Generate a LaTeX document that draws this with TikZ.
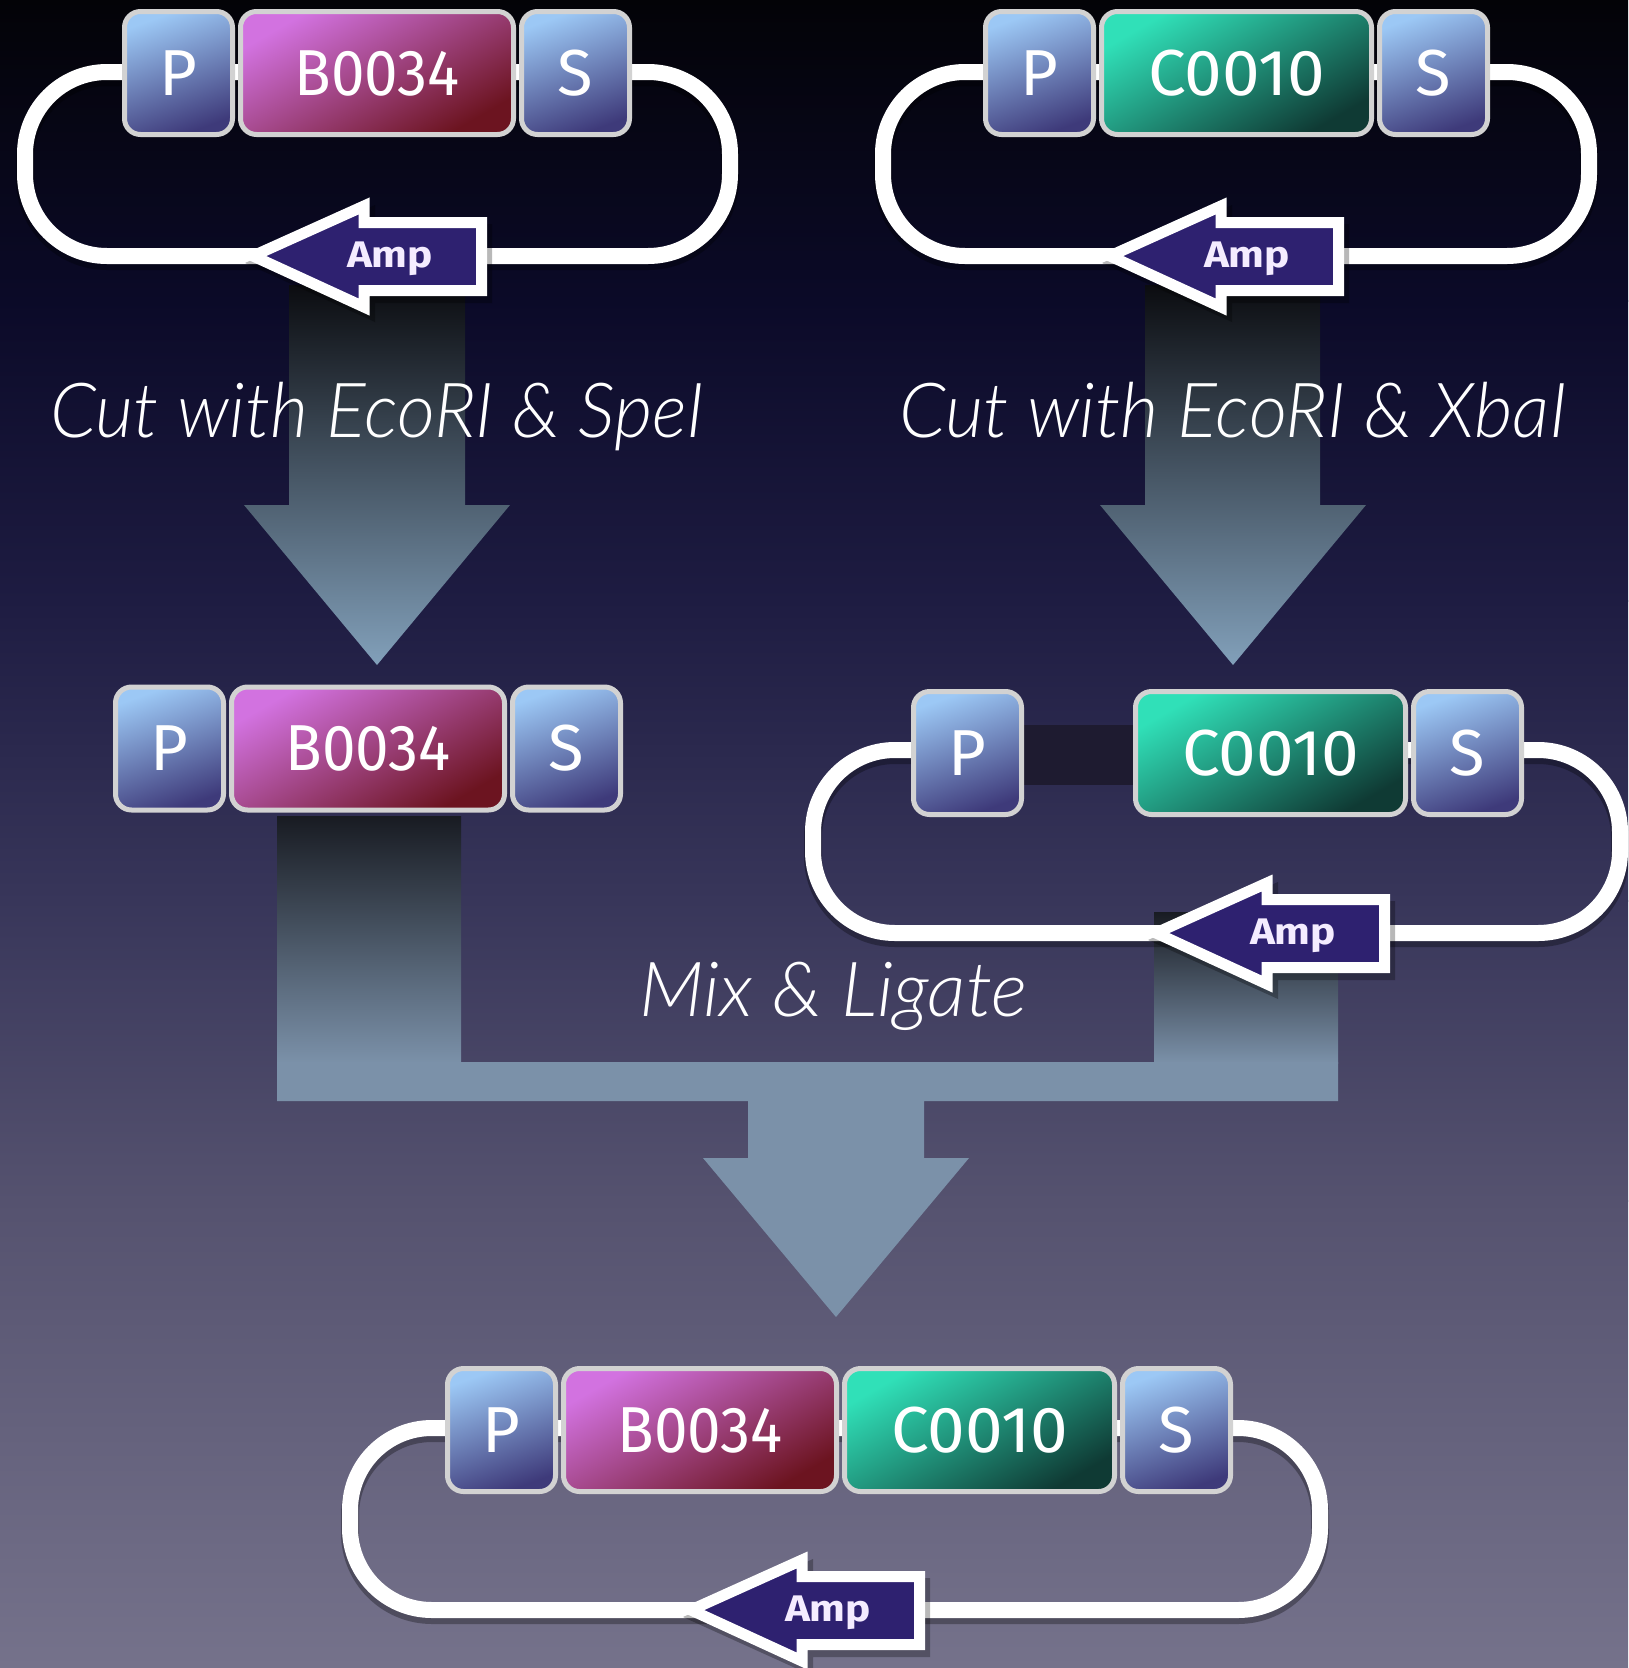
\documentclass[tikz,border=0pt]{standalone}
\usepackage{fontspec}
\usepackage{graphicx}
\setmainfont{Fira Sans}
\newfontfamily\cutfont{Lato}[UprightFont=* Light, ItalicFont=* Light Italic]

% palette
\definecolor{bgA}{HTML}{030307}
\definecolor{bgB}{HTML}{0B0A28}
\definecolor{bgC}{HTML}{1E1C42}
\definecolor{bgD}{HTML}{38365A}
\definecolor{bgE}{HTML}{55526F}
\definecolor{bgF}{HTML}{75728B}
\definecolor{flowDark}{HTML}{0B0C10}
\definecolor{flowLight}{HTML}{82A0BA}
\definecolor{flowTop}{HTML}{181B22}
\definecolor{flowSteel}{HTML}{7B91A9}
\definecolor{psTop}{HTML}{9CC8F5}
\definecolor{psBot}{HTML}{3E3A7A}
\definecolor{rbsTop}{HTML}{D272E0}
\definecolor{rbsBot}{HTML}{6C1420}
\definecolor{termTop}{HTML}{30E0B8}
\definecolor{termBot}{HTML}{0F3A34}
\definecolor{partEdge}{HTML}{D2D2D2}
\definecolor{ampFill}{HTML}{2E2170}
\definecolor{ampText}{HTML}{F4ECFF}
\definecolor{linkDark}{HTML}{1E1B30}

\tikzset{
  part/.style={rectangle, rounded corners=16pt, draw=partEdge, line width=5pt,
    inner sep=0pt, minimum height=123pt, anchor=west, text=white,
    font=\fontsize{65}{65}\selectfont},
  pspart/.style={part, minimum width=108pt, top color=psTop, bottom color=psBot, shading angle=20},
  rbspart/.style={part, minimum width=273pt, top color=rbsTop, bottom color=rbsBot, shading angle=30},
  termpart/.style={part, minimum width=270pt, top color=termTop, bottom color=termBot, shading angle=30},
  loopline/.style={draw=white, line width=16pt, rounded corners=82pt,
    preaction={draw=black, opacity=.3, line width=18pt, transform canvas={yshift=-5pt}}},
  ampbody/.style={fill=ampFill, draw=white, line width=11pt, line join=miter},
  amplabel/.style={anchor=base, inner sep=0pt, text=ampText,
    font=\fontsize{37}{37}\selectfont\bfseries},
  cutlabel/.style={anchor=base west, inner sep=0pt, text=white,
    font=\cutfont\itshape\fontsize{76}{76}\selectfont},
}

% resistance marker: arrow pointing left, tip on the backbone at (#2,#3)
\newcommand\ampmark[3]{%
  \begin{scope}[shift={(#2,#3)}]
    \fill[black, opacity=.28] (5,7) -- (135,-51) -- (135,-32) -- (252,-32)
      -- (252,47) -- (135,47) -- (135,66) -- cycle;
    \draw[ampbody] (13,0) -- (124,-50) -- (124,-33.5) -- (241.5,-33.5)
      -- (241.5,34.5) -- (124,34.5) -- (124,51) -- cycle;
    \node[amplabel] (#1) at (150,11) {\resizebox{86pt}{\height}{Amp}};
  \end{scope}}

\begin{document}
\begin{tikzpicture}[x=1pt, y=-1pt]
\useasboundingbox (0,0) rectangle (1628,1668);
\clip (0,0) rectangle (1628,1668);

% background
\shade[top color=bgA, bottom color=bgB] (0,0) rectangle (1628,301);
\shade[top color=bgB, bottom color=bgC] (0,300) rectangle (1628,601);
\shade[top color=bgC, bottom color=bgD] (0,600) rectangle (1628,901);
\shade[top color=bgD, bottom color=bgE] (0,900) rectangle (1628,1201);
\shade[top color=bgE, bottom color=bgF] (0,1200) rectangle (1628,1668);

% digestion arrows
\shade[top color=flowDark, bottom color=flowLight]
  (289,285) -- (465,285) -- (465,505) -- (510,505) -- (377,665) -- (244,505) -- (289,505) -- cycle;
\shade[top color=flowDark, bottom color=flowLight]
  (1145,285) -- (1320,285) -- (1320,505) -- (1366,505) -- (1233,665) -- (1100,505) -- (1145,505) -- cycle;

% ligation arrow
\shade[top color=flowTop, bottom color=flowSteel] (277,816) rectangle (461,1063);
\shade[top color=flowTop, bottom color=flowSteel] (1154,912) rectangle (1338,1063);
\fill[flowSteel] (277,1062) -- (1338,1062) -- (1338,1101) -- (924,1101) -- (924,1158)
  -- (969,1158) -- (836,1317) -- (703,1158) -- (748,1158) -- (748,1101) -- (277,1101) -- cycle;

% plasmid backbones
\draw[loopline] (25,72) rectangle (730,256);
\draw[loopline] (883,72) rectangle (1589,256);
\draw[loopline] (813,750) rectangle (1620,933);
\draw[loopline] (350,1428) rectangle (1320,1610);
\fill[linkDark] (1024,725) rectangle (1133,785);

% B0034 plasmid
\node[pspart] (tlP) at (122,73) {P};
\node[rbspart] (tlB) at (238,73) {\resizebox{165pt}{\height}{B0034}};
\node[pspart] (tlS) at (519,73) {S};
\ampmark{tlAmp}{240}{256}

% C0010 plasmid
\node[pspart] (trP) at (983,73) {P};
\node[termpart] (trC) at (1099,73) {\resizebox{177pt}{\height}{C0010}};
\node[pspart] (trS) at (1377,73) {S};
\ampmark{trAmp}{1097}{256}

% excised B0034 insert
\node[pspart] (mlP) at (113,748.5) {P};
\node[rbspart] (mlB) at (229,748.5) {\resizebox{165pt}{\height}{B0034}};
\node[pspart] (mlS) at (510,748.5) {S};

% opened C0010 vector
\node[pspart] (mrP) at (911,753) {P};
\node[termpart] (mrC) at (1133,753) {\resizebox{177pt}{\height}{C0010}};
\node[pspart] (mrS) at (1411,753) {S};
\ampmark{mrAmp}{1143}{933}

% ligation product
\node[pspart] (bP) at (445,1430) {P};
\node[rbspart] (bB) at (561,1430) {\resizebox{165pt}{\height}{B0034}};
\node[termpart] (bC) at (842,1430) {\resizebox{177pt}{\height}{C0010}};
\node[pspart] (bS) at (1120,1430) {S};
\ampmark{bAmp}{678}{1610}

% step captions
\node[cutlabel] (cutSpe) at (50,437) {\resizebox{654pt}{\height}{Cut with EcoRI \& SpeI}};
\node[cutlabel] (cutXba) at (899,437) {\resizebox{668pt}{\height}{Cut with EcoRI \& XbaI}};
\node[cutlabel] (mixLig) at (639,1016) {\resizebox{388pt}{\height}{Mix \& Ligate}};
\end{tikzpicture}
\end{document}
